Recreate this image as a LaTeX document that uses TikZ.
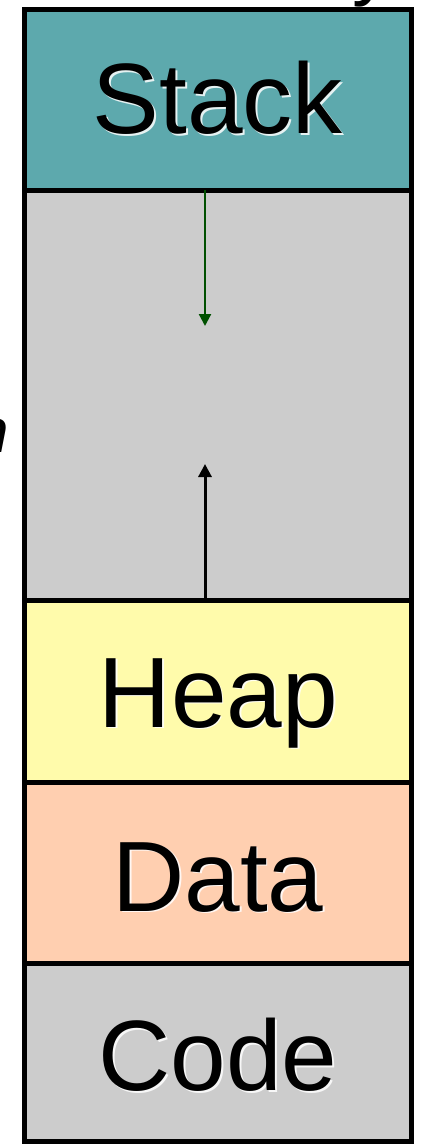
\documentclass[tikz,border=0pt]{standalone}
\usepackage{fontspec}
\setmainfont{Liberation Sans}
\usetikzlibrary{arrows.meta,calc}
\definecolor{stackteal}{RGB}{93,169,173}
\definecolor{freegray}{RGB}{204,204,204}
\definecolor{heapyellow}{RGB}{255,251,171}
\definecolor{datapeach}{RGB}{255,207,176}
\definecolor{growgreen}{RGB}{0,80,0}
\tikzset{
  seg/.style={draw=black, line width=5pt, rectangle, inner sep=0pt,
              minimum width=386.5pt},
  seglabel/.style={font=\fontsize{100}{120}\selectfont, inner sep=0pt,
                   anchor=base, text=black},
  halo/.style={seglabel, text=white, opacity=0.85},
  growarrow/.style={line width=2.2pt, -{Triangle[width=12pt,length=12pt]}},
}
\newcommand{\seglabeltext}[2]{%
  \node[halo] at ($#1+(1.8,1.8)$) {#2};
  \node[seglabel] at #1 {#2};}
\begin{document}
\begin{tikzpicture}[x=1pt,y=-1pt]
\useasboundingbox (0,0) rectangle (430,1144);
\clip (0,0) rectangle (430,1144);

% cut-off letters of the surrounding slide text
\node[font=\fontsize{80}{90}\selectfont, inner sep=0pt, anchor=base] (ttl) at (372,-10) {y};
\node[font=\fontsize{62}{70}\selectfont\itshape, inner sep=0pt, anchor=base east] (side) at (9,452) {n};

% memory segments, top to bottom
\node[seg, fill=stackteal,  minimum height=180.5pt] (stack) at (217.75,99.75) {};
\node[seg, fill=freegray,   minimum height=410pt]   (free)  at (217.75,395) {};
\node[seg, fill=heapyellow, minimum height=182pt]   (heap)  at (217.75,691) {};
\node[seg, fill=datapeach,  minimum height=181pt]   (data)  at (217.75,872.5) {};
\node[seg, fill=freegray,   minimum height=178pt]   (code)  at (217.75,1052) {};

% labels with a soft light shadow
\seglabeltext{(217.75,133.5)}{Stack}
\seglabeltext{(218.5,727)}{Heap}
\seglabeltext{(218,911)}{Data}
\seglabeltext{(218,1090.5)}{Code}

% growth directions of stack and heap
\coordinate (stackfoot) at (205,190);
\coordinate (stackgrow) at (205,326);
\coordinate (heaptop)   at (205,598);
\coordinate (heapgrow)  at (205,464);
\draw[growarrow, draw=growgreen, fill=growgreen] (stackfoot) -- (stackgrow);
\draw[growarrow, line width=3pt, -{Triangle[width=13pt,length=13pt]}] (heaptop) -- (heapgrow);
\end{tikzpicture}
\end{document}
